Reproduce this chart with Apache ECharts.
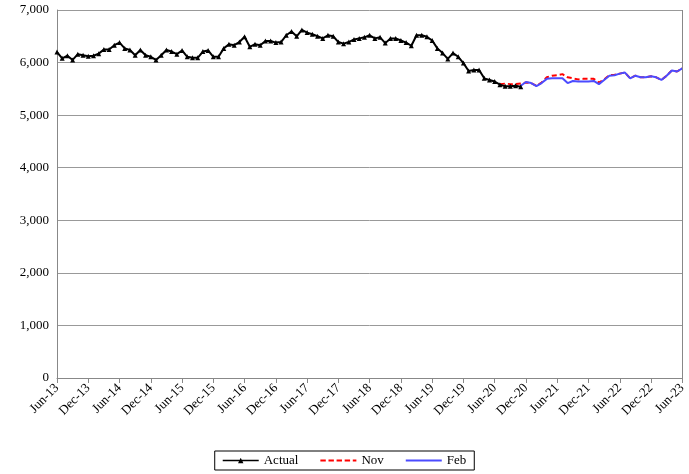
<!DOCTYPE html><html><head><meta charset="utf-8"><script src="https://cdn.jsdelivr.net/npm/echarts@6/dist/echarts.min.js"></script></head><body style="margin:0"><div id="c" style="width:689px;height:474px"></div><script>
const mon=['Jan','Feb','Mar','Apr','May','Jun','Jul','Aug','Sep','Oct','Nov','Dec'];
const categories=[];for(let i=0;i<=120;i++){const m=(5+i)%12,y=13+Math.floor((5+i)/12);categories.push(mon[m]+'-'+y);}
const actual=[6200,6080,6130,6050,6160,6140,6120,6130,6170,6250,6250,6330,6380,6270,6240,6140,6240,6140,6110,6050,6140,6240,6210,6160,6230,6110,6090,6090,6210,6230,6110,6110,6270,6350,6330,6390,6490,6300,6350,6330,6410,6410,6380,6390,6520,6590,6500,6620,6570,6540,6500,6460,6520,6500,6390,6360,6390,6440,6460,6480,6520,6460,6480,6370,6460,6460,6420,6380,6320,6520,6520,6490,6420,6270,6180,6070,6180,6110,5990,5840,5860,5860,5700,5670,5640,5580,5550,5550,5560,5540];
const novStart=85;
const nov=[5590,5600,5590,5590,5600,5620,5610,5560,5620,5720,5750,5760,5780,5720,5700,5680,5690,5690,5690,5620,5680,5760,5770,5790,5810,5700,5750,5720,5720,5740,5720,5670,5750,5850,5830,5890];
const febStart=89;
const feb=[5560,5630,5610,5550,5610,5690,5700,5700,5700,5610,5650,5640,5640,5640,5650,5590,5670,5750,5760,5790,5810,5700,5750,5720,5720,5740,5720,5670,5750,5850,5830,5890];
const pad=(s,a)=>Array(s).fill(null).concat(a);
const f='Liberation Serif';
echarts.init(document.getElementById('c')).setOption({animation:false,
grid:{left:57,right:3,top:10,bottom:96},
legend:{bottom:4,left:'center',itemGap:22,itemWidth:36,itemHeight:10,borderColor:'#000',borderWidth:1,borderRadius:0,padding:[3,8],textStyle:{fontFamily:f,fontSize:13,color:'#000'},
data:[{name:'Actual',icon:'path://M0,4.2L40,4.2L40,5.8L0,5.8ZM17,8L20,2L23,8Z'},
{name:'Nov',icon:'path://M0,4L6,4L6,6L0,6ZM9,4L15,4L15,6L9,6ZM18,4L24,4L24,6L18,6ZM27,4L33,4L33,6L27,6ZM36,4L40,4L40,6L36,6Z'},
{name:'Feb',icon:'path://M0,4L40,4L40,6L0,6Z'}]},
xAxis:{type:'category',data:categories,boundaryGap:false,axisLine:{lineStyle:{color:'#888'}},axisTick:{interval:5,alignWithLabel:true,lineStyle:{color:'#888'}},
axisLabel:{interval:5,rotate:45,fontFamily:f,fontSize:13,color:'#000'},splitLine:{show:false}},
yAxis:{type:'value',min:0,max:7000,interval:1000,axisLine:{show:true,lineStyle:{color:'#888'}},axisTick:{show:false},
axisLabel:{fontFamily:f,fontSize:13,color:'#000',formatter:v=>v.toLocaleString('en-US')},splitLine:{lineStyle:{color:'#999'}}},
series:[
{name:'Actual',type:'line',data:actual,symbol:'triangle',symbolSize:5,showAllSymbol:true,itemStyle:{color:'#000'},lineStyle:{color:'#000',width:2}},
{name:'Nov',type:'line',data:pad(novStart,nov),symbol:'none',itemStyle:{color:'#ff0000'},lineStyle:{color:'#ff0000',width:2,type:[5,3]},z:1},
{name:'Feb',type:'line',data:pad(febStart,feb),symbol:'none',itemStyle:{color:'#4b4bff'},lineStyle:{color:'#4b4bff',width:2},z:2},
{type:'line',data:[],markLine:{silent:true,symbol:'none',label:{show:false},lineStyle:{color:'#888',type:'solid',width:1},data:[{xAxis:120}]}}
]});
</script></body></html>
